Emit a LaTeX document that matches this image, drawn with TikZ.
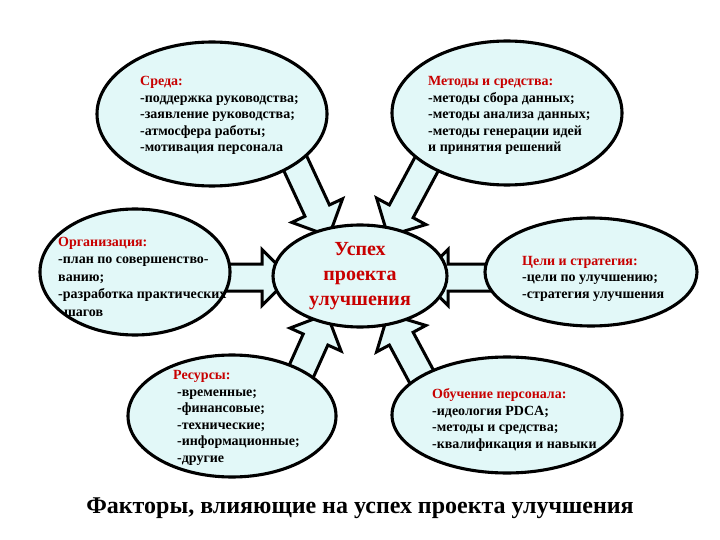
\documentclass[tikz,border=0pt]{standalone}
\usepackage{fontspec}
\setmainfont{Liberation Serif}
\usetikzlibrary{shapes.geometric,calc,backgrounds}
\definecolor{fillc}{RGB}{226,248,248}
\definecolor{redt}{RGB}{200,0,0}
\newcommand\blockarr[2]{%
  \coordinate (#1b) at ($(#2)!28pt!(#1)$);
  \draw[barrow] ($(#1)!13.5pt!90:(#2)$) -- ($(#1b)!13.5pt!90:(#2)$) -- ($(#1b)!28pt!90:(#2)$)
    -- (#2) -- ($(#1b)!28pt!-90:(#2)$) -- ($(#1b)!13.5pt!-90:(#2)$) -- ($(#1)!13.5pt!-90:(#2)$) -- cycle;}
\begin{document}
\begin{tikzpicture}[x=1pt,y=-1pt,
  blob/.style={ellipse, draw=black, line width=3.1pt, fill=fillc, inner sep=0pt},
  barrow/.style={draw=black, line width=3pt, fill=fillc, line join=miter},
  body/.style={anchor=base west, align=left, inner sep=0pt, font=\fontsize{14}{16.5}\selectfont\bfseries}]
\useasboundingbox (0,0) rectangle (720,540);
% ellipses
\node[blob, minimum width=230pt, minimum height=144pt] (env) at (212,114) {};
\node[blob, minimum width=230pt, minimum height=144pt] (meth) at (507,113) {};
\node[blob, minimum width=190pt, minimum height=126pt] (org) at (135,272) {};
\node[blob, minimum width=174pt, minimum height=102pt] (core) at (360,276) {};
\node[blob, minimum width=212pt, minimum height=108pt] (goal) at (591,272) {};
\node[blob, minimum width=208pt, minimum height=122pt] (res) at (232,416) {};
\node[blob, minimum width=230pt, minimum height=116pt] (train) at (507,415) {};
% arrows
\coordinate (a1) at (283,137); \coordinate (h1) at (329,236);
\coordinate (a2) at (439,141); \coordinate (h2) at (388,236);
\coordinate (a3) at (283,412); \coordinate (h3) at (327,314);
\coordinate (a4) at (439,409); \coordinate (h4) at (388,314);
\coordinate (a5) at (200,277.5); \coordinate (h5) at (290,277.5);
\coordinate (a6) at (520,277.5); \coordinate (h6) at (420,277.5);
\begin{pgfonlayer}{background}
\fill[white] (0,0) rectangle (720,540);
\blockarr{a1}{h1}
\blockarr{a2}{h2}
\blockarr{a3}{h3}
\blockarr{a4}{h4}
\blockarr{a5}{h5}
\blockarr{a6}{h6}
\end{pgfonlayer}
% texts (anchored at the baseline of the last line)
\node[body] (envt) at (140,152) {\textcolor{redt}{Среда:}\\-поддержка руководства;\\-заявление руководства;\\-атмосфера работы;\\-мотивация персонала};
\node[body] (metht) at (428,152) {\textcolor{redt}{Методы и средства:}\\-методы сбора данных;\\-методы анализа данных;\\-методы генерации идей\\и принятия решений};
\node[body, font=\fontsize{14}{17.5}\selectfont\bfseries] (orgt) at (58,316) {\textcolor{redt}{Организация:}\\-план по совершенство-\\ванию;\\-разработка практических\\\ \,шагов};
\node[body] (goalt) at (522,298) {\textcolor{redt}{Цели и стратегия:}\\-цели по улучшению;\\-стратегия улучшения};
\node[body] (rest) at (173,462) {\textcolor{redt}{Ресурсы:}\\\hspace{4pt}-временные;\\\hspace{4pt}-финансовые;\\\hspace{4pt}-технические;\\\hspace{4pt}-информационные;\\\hspace{4pt}-другие};
\node[body] (traint) at (432,448) {\textcolor{redt}{Обучение персонала:}\\-идеология PDCA;\\-методы и средства;\\-квалификация и навыки};
\node[align=center, inner sep=0pt, text=redt, font=\fontsize{20}{25}\selectfont\bfseries] (coret) at (360,276) {Успех\\проекта\\улучшения};
\node[inner sep=0pt, font=\fontsize{24}{28}\selectfont\bfseries] (title) at (360,508) {Факторы, влияющие на успех проекта улучшения};
\end{tikzpicture}
\end{document}
